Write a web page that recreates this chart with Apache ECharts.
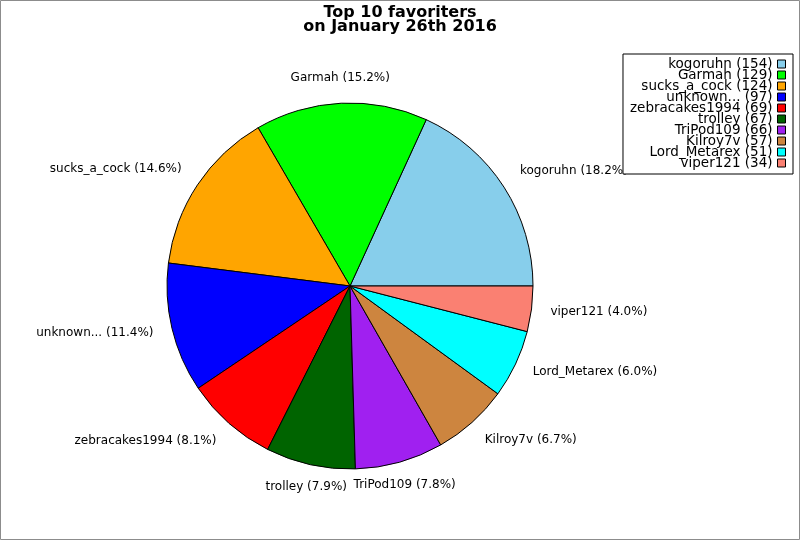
<!DOCTYPE html>
<html>
<head>
<meta charset="utf-8">
<script src="https://cdn.jsdelivr.net/npm/echarts@6/dist/echarts.min.js"></script>
<style>
  html, body { margin: 0; padding: 0; background: #fff; }
  #chart { width: 800px; height: 540px; }
</style>
</head>
<body>
<div id="chart"></div>
<script>
const names = ["kogoruhn", "Garmah", "sucks_a_cock", "unknown...", "zebracakes1994", "trolley", "TriPod109", "Kilroy7v", "Lord_Metarex", "viper121"];
const counts = [154, 129, 124, 97, 69, 67, 66, 57, 51, 34];
const colors = ["#87ceeb", "#00ff00", "#ffa500", "#0000ff", "#ff0000", "#006400", "#a020f0", "#cd853f", "#00ffff", "#fa8072"];

const total = counts.reduce((a, b) => a + b, 0);
// mid angle of each slice, counterclockwise from 3 o'clock
const midAngles = [];
let acc = 0;
counts.forEach((v) => {
  midAngles.push(((acc + v / 2) / total) * 2 * Math.PI);
  acc += v;
});

const font = "DejaVu Sans";
const chart = echarts.init(document.getElementById("chart"));
chart.setOption({
  animation: false,
  backgroundColor: "#fff",
  title: {
    text: "Top 10 favoriters\non January 26th 2016",
    left: "center",
    top: 1,
    textStyle: { fontFamily: font, fontSize: 16, fontWeight: "bold", color: "#000", lineHeight: 14 },
  },
  legend: {
    orient: "vertical",
    right: 7,
    top: 54,
    align: "right",
    padding: [3, 7, 4, 7],
    itemGap: -3,
    itemWidth: 8,
    itemHeight: 8,
    icon: "rect",
    backgroundColor: "#fff",
    borderColor: "#000",
    borderWidth: 1,
    borderRadius: 0,
    itemStyle: { borderColor: "#000", borderWidth: 1 },
    textStyle: { fontFamily: font, fontSize: 13.5, color: "#000" },
    formatter: (name) => name + " (" + counts[names.indexOf(name)] + ")",
    data: names,
  },
  graphic: [
    {
      type: "rect",
      shape: { x: 0.5, y: 0.5, width: 799, height: 539 },
      style: { fill: "none", stroke: "#8c8c8c", lineWidth: 1 },
      silent: true,
      z: 100,
    },
  ],
  series: [
    {
      type: "pie",
      center: [350, 286],
      radius: 183,
      startAngle: 0,
      clockwise: false,
      avoidLabelOverlap: false,
      color: colors,
      itemStyle: { borderColor: "#000", borderWidth: 1 },
      emphasis: { disabled: true },
      label: {
        position: "outside",
        fontFamily: font,
        fontSize: 12,
        color: "#000",
        distanceToLabelLine: 0,
        formatter: (p) => p.name + " (" + ((p.value / total) * 100).toFixed(1) + "%)",
      },
      labelLine: { show: false, length: 19, length2: 0 },
      labelLayout: (p) => {
        const a = midAngles[p.dataIndex];
        const out = {};
        if (Math.abs(Math.cos(a)) < 0.4) out.align = "center";
        if (Math.sin(a) > 0.3) out.verticalAlign = "bottom";
        if (Math.sin(a) < -0.5) out.dy = Math.round(-4 * Math.sin(a));
        return out;
      },
      data: names.map((n, i) => ({ name: n, value: counts[i] })),
    },
  ],
});
</script>
</body>
</html>
